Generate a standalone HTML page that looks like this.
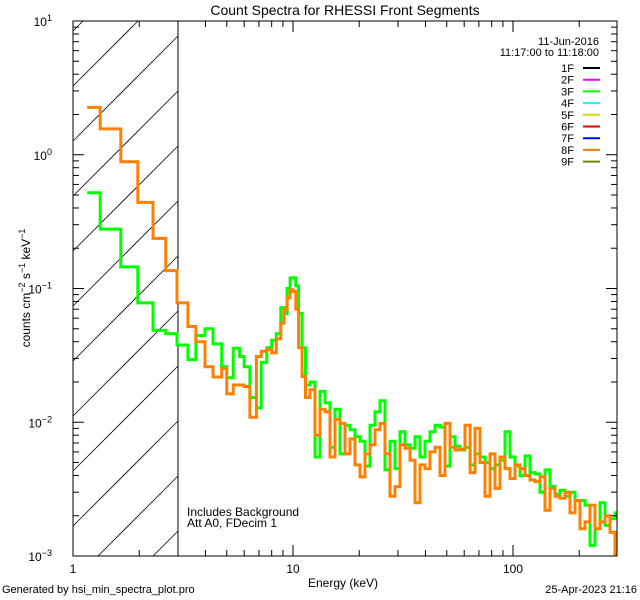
<!DOCTYPE html>
<html><head><meta charset="utf-8"><style>
html,body{margin:0;padding:0;background:#fff;width:640px;height:600px;overflow:hidden;}
svg{display:block;font-family:"Liberation Sans",sans-serif;overflow:hidden;}
</style></head><body>
<svg id="chart" width="640" height="600" viewBox="0 0 640 600">
<defs><clipPath id="pclip"><rect x="73" y="21" width="544" height="535"/></clipPath></defs>
<text x="345" y="15" font-size="14" text-anchor="middle">Count Spectra for RHESSI Front Segments</text>
<g id="hatch"></g>
<line x1="178" y1="21" x2="178" y2="556" stroke="#000"/>
<g id="series" clip-path="url(#pclip)"></g>
<rect x="73" y="21" width="544" height="535" fill="none" stroke="#000"/>
<g id="ticks"></g>
<text x="30" y="288" font-size="12" text-anchor="middle" transform="rotate(-90 30 288)">counts cm<tspan dy="-5" font-size="9">−2</tspan><tspan dy="5"> s</tspan><tspan dy="-5" font-size="9">−1</tspan><tspan dy="5"> keV</tspan><tspan dy="-5" font-size="9">−1</tspan></text>
<text x="343" y="587" font-size="12" text-anchor="middle">Energy (keV)</text>
<text x="187" y="516" font-size="12">Includes Background</text>
<text x="187" y="527" font-size="12">Att A0, FDecim 1</text>
<text x="2" y="593" font-size="11">Generated by hsi_min_spectra_plot.pro</text>
<text x="637" y="593" font-size="11" text-anchor="end">25-Apr-2023 21:16</text>
<text x="599" y="45" font-size="11" text-anchor="end">11-Jun-2016</text>
<text x="599" y="56" font-size="11" text-anchor="end">11:17:00 to 11:18:00</text>
<g id="legend"></g>
</svg>
<script>
const edges=[1.16,1.33,1.65,1.97,2.31,2.64,2.97,3.33,3.62,3.98,4.33,4.74,5.0,5.35,5.72,6.0,6.37,6.82,7.17,7.6,8.0,8.4,8.8,9.1,9.4,9.7,10.0,10.3,10.6,11.0,11.4,11.95,
12.59,13.27,13.98,14.73,15.52,16.36,17.23,18.16,19.13,20.16,21.25,22.39,23.59,24.86,26.19,27.6,29.08,30.64,32.29,34.02,35.85,37.78,39.81,41.95,44.2,46.57,49.08,51.71,54.5,57.4,60.5,63.8,67.2,70.8,74.6,78.6,82.8,87.3,92.0,96.9,102.1,107.6,113.4,119.5,125.9,132.7,139.8,147.3,155.2,163.6,172.3,181.6,191.3,201.6,212.5,223.9,235.9,248.6,261.9,276,290.8,297];
const green=[0.52,0.278,0.145,0.078,0.0486,0.046,0.0378,0.0294,0.0445,0.050,0.0385,0.026,0.0215,0.0358,0.031,0.026,0.0153,0.0128,0.028,0.036,0.041,0.046,0.072,0.065,0.10,0.12,0.12,0.105,0.065,0.036,0.019,
0.020,0.0055,0.017,0.014,0.0065,0.0125,0.0058,0.0095,0.0088,0.0078,0.0072,0.0047,0.0095,0.012,0.0145,0.0044,0.0072,0.0045,0.0085,0.0068,0.0064,0.0078,0.0055,0.0072,0.0085,0.0095,0.0092,0.0047,0.0078,0.0066,0.0062,0.0065,0.0048,0.0058,0.0055,0.0050,0.0045,0.0048,0.0052,0.0085,0.0055,0.0047,0.0040,0.0056,0.0042,0.0041,0.0030,0.0044,0.0033,0.0029,0.0031,0.0028,0.0030,0.0026,0.0026,0.0024,0.0012,0.0016,0.0025,0.0017,0.0019,0.0021];
const orange=[2.26,1.56,0.886,0.44,0.237,0.136,0.078,0.052,0.040,0.026,0.0218,0.0252,0.0163,0.019,0.019,0.0185,0.0109,0.031,0.034,0.035,0.033,0.042,0.055,0.07,0.085,0.098,0.095,0.07,0.036,0.022,0.0153,
0.0175,0.008,0.0125,0.012,0.0055,0.0105,0.0098,0.0058,0.0075,0.0048,0.0039,0.0058,0.0068,0.0088,0.0098,0.0058,0.0028,0.0033,0.0068,0.0064,0.0052,0.0025,0.0048,0.0045,0.0060,0.0065,0.0040,0.0098,0.0065,0.0062,0.0063,0.0095,0.0042,0.0090,0.0050,0.0028,0.0058,0.0032,0.0055,0.0045,0.0038,0.0048,0.0045,0.0040,0.0037,0.0036,0.0039,0.0022,0.0032,0.0028,0.0027,0.0030,0.0021,0.0026,0.0016,0.0018,0.0024,0.0016,0.0018,0.0020,0.0015,0.0010];
const xTickLabels=["1","10","100"];
const yTickLabels=["1","0","-1","-2","-3"];
const legendNames=["1F","2F","3F","4F","5F","6F","7F","8F","9F"];
const legendColors=["#000000","#ff00ff","#00ff00","#00ffff","#d8d800","#ff0000","#0000ff","#ff8000","#808000"];

const NS="http://www.w3.org/2000/svg";
const X0=73,X1=617,Y0=21,Y1=556,XMAX=297,XH=178;
function xs(e){return X0+(X1-X0)*Math.log10(e)/Math.log10(XMAX);}
function ys(v){return Y0+(Y1-Y0)*(1-Math.log10(v))/4;}
function mk(tag,attrs,parent){const el=document.createElementNS(NS,tag);for(const k in attrs)el.setAttribute(k,attrs[k]);parent.appendChild(el);return el;}

const hg=document.getElementById('hatch');
for(let k=-10;k<12;k++){
  const yl=141+55*k;
  // line y = yl - (x - X0); clip to box
  let xa=Math.max(X0, X0+(yl-Y1));
  let xb=Math.min(XH, X0+(yl-Y0));
  if(xb<=xa) continue;
  const l=mk('line',{x1:xa,y1:yl-(xa-X0),x2:xb,y2:yl-(xb-X0),stroke:'#000','stroke-width':0.8},hg);
  
  
}

const sg=document.getElementById('series');
function stepPath(vals){
  let d='';
  for(let i=0;i<vals.length;i++){
    const xa=xs(edges[i]),xb=xs(edges[i+1]),y=Math.min(Y1,ys(vals[i]));
    d+=(i===0?'M':'L')+xa.toFixed(1)+','+y.toFixed(1)+'L'+xb.toFixed(1)+','+y.toFixed(1);
  }
  return d;
}
const pg=mk('path',{d:stepPath(green),fill:'none',stroke:'#00ff00','stroke-width':3},sg);


const po=mk('path',{d:stepPath(orange),fill:'none',stroke:'#ff8000','stroke-width':3},sg);



const tg=document.getElementById('ticks');
for(let dec=0;dec<3;dec++){
  for(let m=1;m<10;m++){
    const e=m*Math.pow(10,dec); if(e>XMAX)break;
    const x=xs(e),len=m===1?11:6;
    const t1=mk('line',{x1:x,y1:Y1,x2:x,y2:Y1-len,stroke:'#000'},tg);
    
    
    const t2=mk('line',{x1:x,y1:Y0,x2:x,y2:Y0+len,stroke:'#000'},tg);
    
    
  }
}
xTickLabels.forEach(s=>{
  const t=mk('text',{x:xs(+s),y:573,'font-size':12,'text-anchor':'middle'},tg);
  t.textContent=s;
  
  
});
for(let p=-3;p<1;p++){
  for(let m=1;m<10;m++){
    const y=ys(m*Math.pow(10,p)),len=m===1?11:6;
    const a=mk('line',{x1:X0,y1:y,x2:X0+len,y2:y,stroke:'#000'},tg);
    
    
    const b=mk('line',{x1:X1,y1:y,x2:X1-len,y2:y,stroke:'#000'},tg);
    
    
  }
}
yTickLabels.forEach(s=>{
  const y=ys(Math.pow(10,+s));
  const t=mk('text',{x:52,y:y+5,'font-size':12,'text-anchor':'end'},tg);
  t.textContent='10';
  const sp=mk('tspan',{dy:-5,'font-size':9},t);
  sp.textContent=s.charAt(0)==='-'?'−'+s.slice(1):s;
  
  
});

const lg=document.getElementById('legend');
legendNames.forEach((n,i)=>{
  const y=68+i*11.7;
  const t=mk('text',{x:574,y:y+4,'font-size':11,'text-anchor':'end'},lg);
  t.textContent=n;
  
  
  const l=mk('line',{x1:583,y1:y,x2:600,y2:y,stroke:legendColors[i],'stroke-width':2},lg);
  
  
});
</script>
</body></html>
